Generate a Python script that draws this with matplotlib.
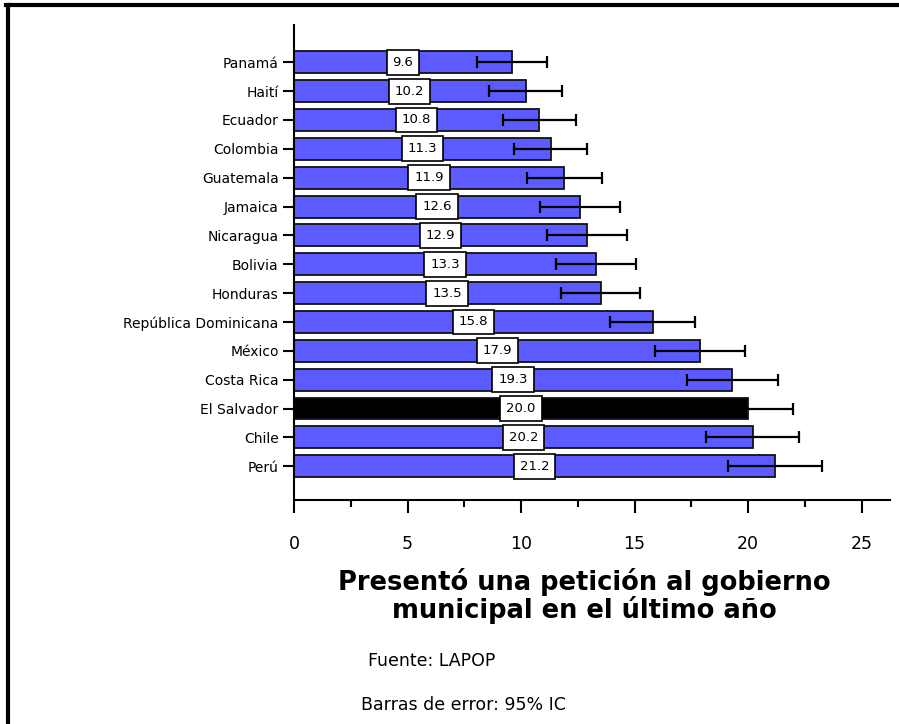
import matplotlib.pyplot as plt
from matplotlib.lines import Line2D

paises = ['Panamá', 'Haití', 'Ecuador', 'Colombia', 'Guatemala', 'Jamaica',
          'Nicaragua', 'Bolivia', 'Honduras', 'República Dominicana', 'México',
          'Costa Rica', 'El Salvador', 'Chile', 'Perú']
valores = [9.6, 10.2, 10.8, 11.3, 11.9, 12.6, 12.9, 13.3, 13.5, 15.8, 17.9,
           19.3, 20.0, 20.2, 21.2]
errores = [1.55, 1.6, 1.6, 1.6, 1.65, 1.75, 1.75, 1.75, 1.75, 1.87, 1.98,
           2.0, 1.97, 2.04, 2.07]
resaltado = 'El Salvador'

fig = plt.figure(figsize=(8.99, 7.24), dpi=100)
ax = fig.add_axes([0.327, 0.309, 0.663, 0.656])

y = list(range(len(paises)))
colores = ['black' if p == resaltado else '#5b5bff' for p in paises]
ax.barh(y, valores, height=0.76, color=colores, edgecolor='#111111', linewidth=1.3, zorder=2)
ax.errorbar(valores, y, xerr=errores, fmt='none', ecolor='black', elinewidth=1.6,
            capsize=4, capthick=1.6, zorder=3)

for yi, v in zip(y, valores):
    ax.text(v / 2, yi, f'{v:.1f}', ha='center', va='center', fontsize=9.5, zorder=4,
            bbox=dict(boxstyle='square,pad=0.45', facecolor='white', edgecolor='black', linewidth=1.2))

ax.set_yticks(y)
ax.set_yticklabels(paises, fontsize=10)
ax.set_ylim(len(paises) - 1 + 1.18, -1.28)
ax.set_xlim(0, 26.25)
ax.set_xticks([0, 5, 10, 15, 20, 25])
ax.set_xticks([2.5, 7.5, 12.5, 17.5, 22.5], minor=True)
ax.tick_params(axis='x', which='major', length=9, width=1.5, labelsize=12.5, pad=16)
ax.tick_params(axis='x', which='minor', length=5, width=1.5)
ax.tick_params(axis='y', length=8, width=1.5, pad=3)

for s in ['top', 'right']:
    ax.spines[s].set_visible(False)
for s in ['left', 'bottom']:
    ax.spines[s].set_linewidth(1.5)

fig.text(0.65, 0.177, 'Presentó una petición al gobierno\nmunicipal en el último año',
         ha='center', va='center', fontsize=18.5, fontweight='bold', linespacing=1.0)
fig.text(0.48, 0.087, 'Fuente: LAPOP', ha='center', va='center', fontsize=12.5)
fig.text(0.515, 0.026, 'Barras de error: 95% IC', ha='center', va='center', fontsize=12.5)

fig.add_artist(Line2D([0.007, 1.0], [0.9925, 0.9925], color='black', linewidth=3))
fig.add_artist(Line2D([0.009, 0.009], [0.0, 0.9925], color='black', linewidth=3))

fig.savefig('out.png', dpi=100)
